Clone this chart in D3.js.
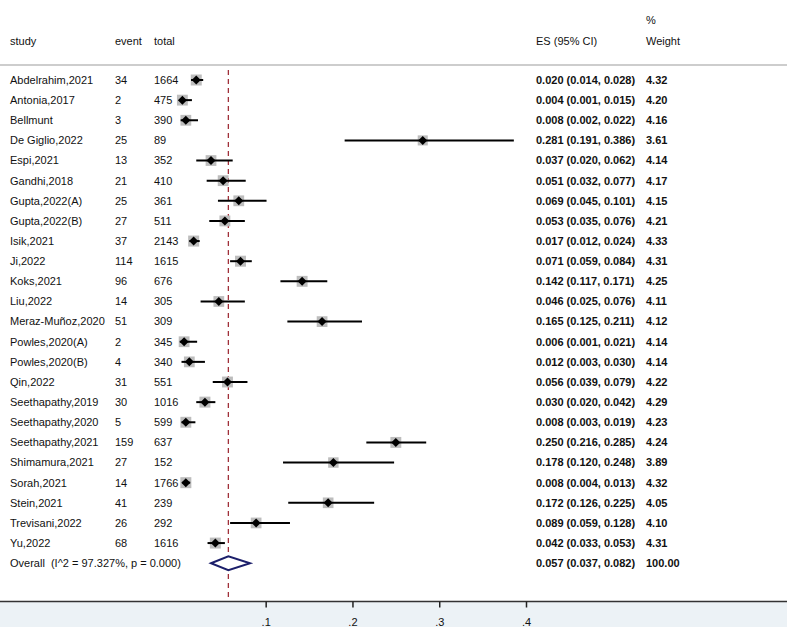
<!DOCTYPE html>
<html>
<head>
<meta charset="UTF-8" />
<title>Forest plot</title>
<script src="https://d3js.org/d3.v7.min.js"></script>
<style>
  body { margin: 0; background: #fff; }
  text { font-family: "Liberation Sans", Arial, sans-serif; font-size: 11px; fill: #111; white-space: pre; }
  .es { font-weight: bold; }
</style>
</head>
<body>
<svg width="787" height="627"></svg>
<script>
const width = 787, height = 627;

// study rows
const studies = ["Abdelrahim,2021", "Antonia,2017", "Bellmunt", "De Giglio,2022", "Espi,2021",
  "Gandhi,2018", "Gupta,2022(A)", "Gupta,2022(B)", "Isik,2021", "Ji,2022", "Koks,2021",
  "Liu,2022", "Meraz-Muñoz,2020", "Powles,2020(A)", "Powles,2020(B)", "Qin,2022",
  "Seethapathy,2019", "Seethapathy,2020", "Seethapathy,2021", "Shimamura,2021",
  "Sorah,2021", "Stein,2021", "Trevisani,2022", "Yu,2022"];
const events = [34, 2, 3, 25, 13, 21, 25, 27, 37, 114, 96, 14, 51, 2, 4, 31, 30, 5, 159, 27, 14, 41, 26, 68];
const totals = [1664, 475, 390, 89, 352, 410, 361, 511, 2143, 1615, 676, 305, 309, 345, 340, 551, 1016, 599, 637, 152, 1766, 239, 292, 1616];
const es = [0.020, 0.004, 0.008, 0.281, 0.037, 0.051, 0.069, 0.053, 0.017, 0.071, 0.142, 0.046, 0.165, 0.006, 0.012, 0.056, 0.030, 0.008, 0.250, 0.178, 0.008, 0.172, 0.089, 0.042];
const lo = [0.014, 0.001, 0.002, 0.191, 0.020, 0.032, 0.045, 0.035, 0.012, 0.059, 0.117, 0.025, 0.125, 0.001, 0.003, 0.039, 0.020, 0.003, 0.216, 0.120, 0.004, 0.126, 0.059, 0.033];
const hi = [0.028, 0.015, 0.022, 0.386, 0.062, 0.077, 0.101, 0.076, 0.024, 0.084, 0.171, 0.076, 0.211, 0.021, 0.030, 0.079, 0.042, 0.019, 0.285, 0.248, 0.013, 0.225, 0.128, 0.053];
const weights = [4.32, 4.20, 4.16, 3.61, 4.14, 4.17, 4.15, 4.21, 4.33, 4.31, 4.25, 4.11, 4.12, 4.14, 4.14, 4.22, 4.29, 4.23, 4.24, 3.89, 4.32, 4.05, 4.10, 4.31];

// pooled estimate
const overall = { label: "Overall  (I^2 = 97.327%, p = 0.000)", es: 0.057, lo: 0.037, hi: 0.082, weight: "100.00" };
const xTicks = [0.1, 0.2, 0.3, 0.4];

const fmt = d3.format(".3f");
const rows = studies.map((s, i) => ({ study: s, event: events[i], total: totals[i], es: es[i], lo: lo[i], hi: hi[i], w: weights[i] }));

const x = d3.scaleLinear().domain([0, 0.4]).range([178.9, 526]);
const y = d3.scaleLinear().domain([0, 24]).range([80, 563.2]);
const boxSize = d3.scaleSqrt().domain([0, 4.32]).range([0, 11]);

const axisY = 601.5;
const svg = d3.select("svg");

// shaded strip under the axis
svg.append("rect").attr("x", 0).attr("y", axisY).attr("width", width).attr("height", height - axisY).attr("fill", "#ecf2f6");

// header
const head = svg.append("g");
head.append("text").attr("x", 10).attr("y", 45).text("study");
head.append("text").attr("x", 115).attr("y", 45).text("event");
head.append("text").attr("x", 154).attr("y", 45).text("total");
head.append("text").attr("x", 536).attr("y", 45).text("ES (95% CI)");
head.append("text").attr("x", 646).attr("y", 24).text("%");
head.append("text").attr("x", 646).attr("y", 45).text("Weight");
svg.append("line").attr("x1", 0).attr("x2", width).attr("y1", 65).attr("y2", 65).attr("stroke", "#bdbdbd").attr("stroke-width", 1.5);

// reference line at pooled estimate
svg.append("line")
  .attr("x1", x(overall.es)).attr("x2", x(overall.es))
  .attr("y1", 70).attr("y2", axisY)
  .attr("stroke", "#a0303a").attr("stroke-width", 1.3).attr("stroke-dasharray", "5,4");

// rows
const row = svg.append("g").selectAll("g").data(rows).enter().append("g")
  .attr("transform", (d, i) => `translate(0,${y(i)})`);

row.append("text").attr("x", 10).attr("dy", "0.35em").text(d => d.study);
row.append("text").attr("x", 115).attr("dy", "0.35em").text(d => d.event);
row.append("text").attr("x", 154).attr("dy", "0.35em").text(d => d.total);
row.append("text").attr("class", "es").attr("x", 536).attr("dy", "0.35em")
  .text(d => `${fmt(d.es)} (${fmt(d.lo)}, ${fmt(d.hi)})`);
row.append("text").attr("class", "es").attr("x", 646).attr("dy", "0.35em").text(d => d.w.toFixed(2));

row.append("rect")
  .attr("x", d => x(d.es) - boxSize(d.w) / 2).attr("y", d => -boxSize(d.w) / 2)
  .attr("width", d => boxSize(d.w)).attr("height", d => boxSize(d.w))
  .attr("fill", "#bdbdbd");
row.append("line")
  .attr("x1", d => x(d.lo)).attr("x2", d => x(d.hi))
  .attr("stroke", "#000").attr("stroke-width", 2);
row.append("path")
  .attr("d", d => { const c = x(d.es); return `M${c - 4.5},0L${c},-4.5L${c + 4.5},0L${c},4.5Z`; })
  .attr("fill", "#000");

// overall row
const ov = svg.append("g").attr("transform", `translate(0,${y(24)})`);
ov.append("text").attr("x", 10).attr("dy", "0.35em").text(overall.label);
ov.append("text").attr("class", "es").attr("x", 536).attr("dy", "0.35em")
  .text(`${fmt(overall.es)} (${fmt(overall.lo)}, ${fmt(overall.hi)})`);
ov.append("text").attr("class", "es").attr("x", 646).attr("dy", "0.35em").text(overall.weight);
ov.append("path")
  .attr("d", `M${x(overall.lo)},0L${x(overall.es)},-7L${x(overall.hi)},0L${x(overall.es)},7Z`)
  .attr("fill", "#fff").attr("stroke", "#1c1f6b").attr("stroke-width", 2);

// x axis
svg.append("line").attr("x1", 0).attr("x2", width).attr("y1", axisY).attr("y2", axisY)
  .attr("stroke", "#333").attr("stroke-width", 1.5);
const axis = d3.axisBottom(x).tickValues(xTicks).tickSize(6).tickPadding(11)
  .tickFormat(d => d3.format(".1f")(d).replace(/^0/, ""));
const gx = svg.append("g").attr("transform", `translate(0,${axisY})`).call(axis);
gx.select(".domain").remove();
gx.selectAll(".tick line").attr("stroke", "#222").attr("stroke-width", 1.5);
gx.selectAll(".tick text").attr("font-size", 11).attr("font-family", "Liberation Sans, Arial, sans-serif").attr("fill", "#111");
</script>
</body>
</html>
